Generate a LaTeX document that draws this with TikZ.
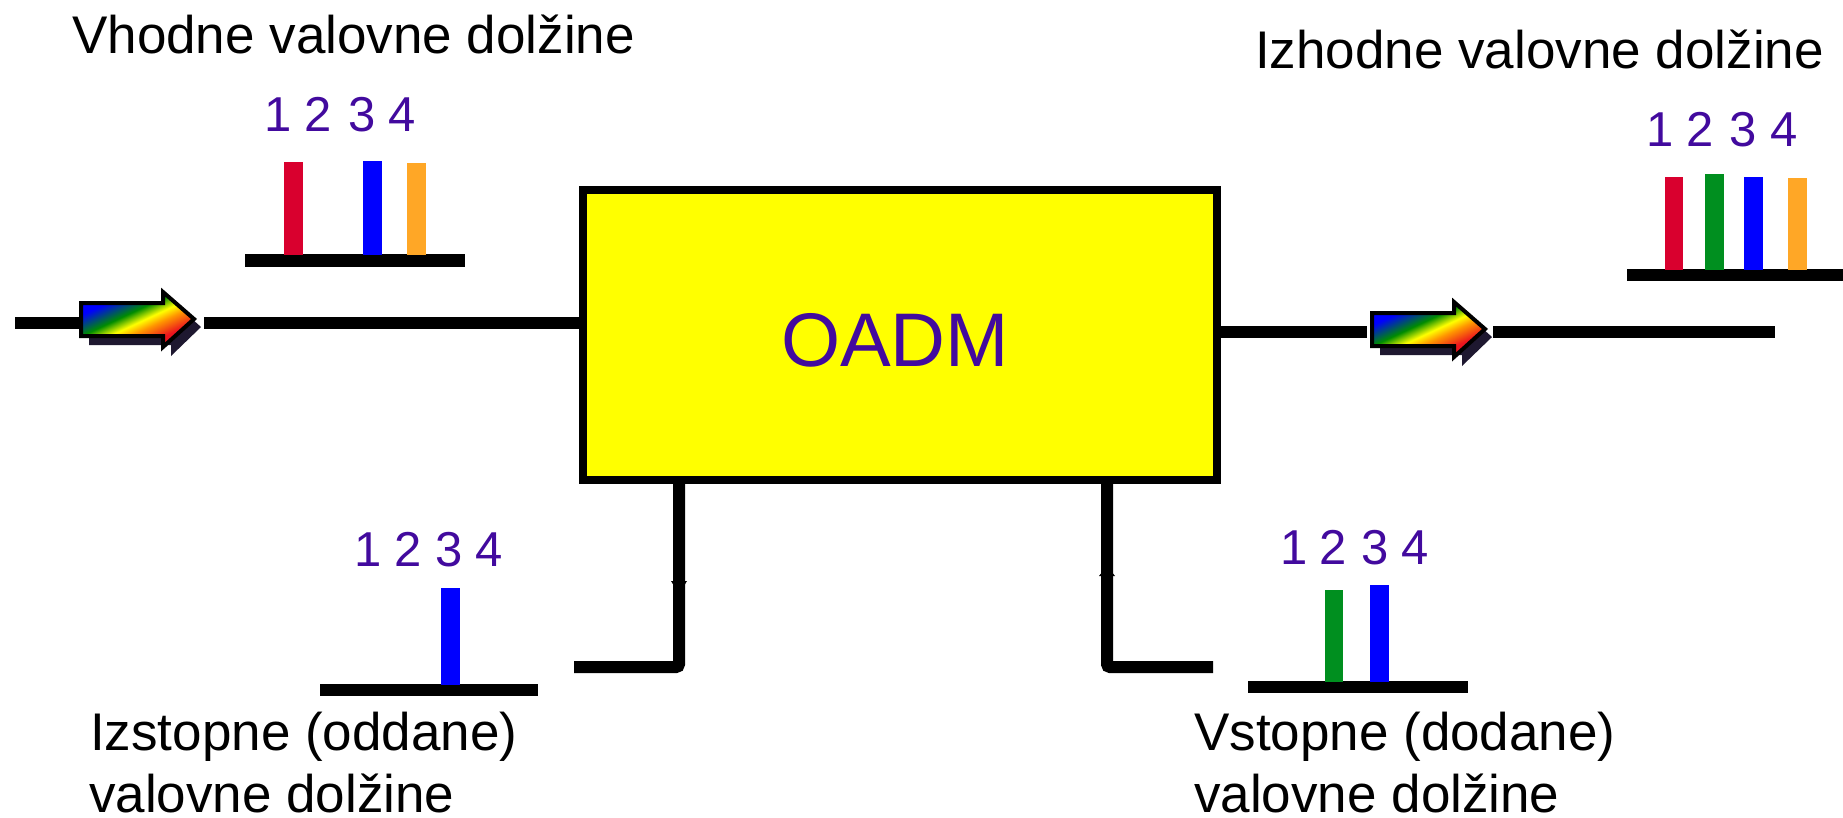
\documentclass[tikz,border=0pt]{standalone}
\usepackage{fontspec}
\setmainfont{Liberation Sans}
\definecolor{ind}{RGB}{66,10,158}
\definecolor{oyellow}{RGB}{255,255,0}
\definecolor{sred}{RGB}{217,0,46}
\definecolor{sgreen}{RGB}{0,143,31}
\definecolor{sblue}{RGB}{0,0,255}
\definecolor{sorange}{RGB}{255,167,38}
\definecolor{shad}{RGB}{30,24,48}
\definecolor{gblue}{RGB}{0,0,255}
\definecolor{ggreen}{RGB}{0,140,0}
\definecolor{gyellow}{RGB}{255,255,0}
\definecolor{gorange}{RGB}{255,150,0}
\definecolor{gred}{RGB}{235,20,30}
\pgfdeclarehorizontalshading{rainbowarrow}{100bp}{
 color(0bp)=(gblue); color(31bp)=(gblue); color(44bp)=(ggreen); color(52bp)=(gyellow); color(58bp)=(gorange); color(68bp)=(gred); color(100bp)=(gred)}
\tikzset{
  wire/.style={line width=12pt,black},
  basebar/.style={line width=12.5pt,black},
  cap1/.style={font=\fontsize{53}{55}\selectfont,anchor=base west,inner sep=0pt,text=black},
  digit/.style={font=\fontsize{49}{50}\selectfont,anchor=base,inner sep=0pt,text=ind},
  oadm/.style={draw=black,line width=8pt,fill=oyellow,minimum width=634pt,minimum height=290pt,anchor=north west,inner sep=0pt},
  barb/.style={fill=black,draw=none}
}
\newcommand{\rbarrow}[2]{%
  \begin{scope}[shift={(#1,#2)}]
   \fill[shad] (10,-6)--(92,-6)--(92,-18)--(122,9)--(92,38)--(92,27)--(10,27)--cycle;
   \shade[shading=rainbowarrow,shading angle=-65,draw=black,line width=4pt]
     (2,-15)--(84,-15)--(84,-26)--(115,1)--(84,29)--(84,18)--(2,18)--cycle;
  \end{scope}}
\begin{document}
\begin{tikzpicture}[x=1pt,y=-1pt]
\useasboundingbox (0,0) rectangle (1843,817);
\fill[white] (0,0) rectangle (1843,817);
% OADM box
\node[oadm] (box) at (579,186) {};
\node[text=ind,font=\fontsize{76}{80}\selectfont,inner sep=0pt] (boxlabel) at (895,340) {OADM};
% coordinates
\coordinate (inA) at (15,323);
\coordinate (inB) at (80,323);
\coordinate (inC) at (204,323);
\coordinate (inD) at (box.west |- 0,323);
\coordinate (outA) at (box.east |- 0,332);
\coordinate (outB) at (1367,332);
\coordinate (outC) at (1493,332);
\coordinate (outD) at (1775,332);
\coordinate (dropT) at (679,0 |- box.south);
\coordinate (dropB) at (679,667);
\coordinate (dropE) at (574,667);
\coordinate (addT) at (1107,0 |- box.south);
\coordinate (addB) at (1107,667);
\coordinate (addE) at (1213,667);
% wires
\draw[wire] (inA) -- (inB);
\draw[wire] (inC) -- (inD);
\draw[wire] (outA) -- (outB);
\draw[wire] (outC) -- (outD);
\draw[wire,rounded corners=3pt] (dropT) -- (dropB) -- (dropE);
\draw[wire,rounded corners=3pt] (addT) -- (addB) -- (addE);
\fill[barb] (671,581) -- (687,581) -- (679,594) -- cycle;
\fill[barb] (1099,576) -- (1115,576) -- (1107,566) -- cycle;
% rainbow arrows
\rbarrow{79}{318}
\rbarrow{1370}{328}
% top-left spectrum
\draw[basebar] (245,260.5) -- (465,260.5);
\fill[sred] (284,162) rectangle (303,255);
\fill[sblue] (363,161) rectangle (382,255);
\fill[sorange] (407,163) rectangle (426,255);
\node[digit] (a1) at (278,131) {1};
\node[digit] (a2) at (318,131) {2};
\node[digit] (a3) at (362,131) {3};
\node[digit] (a4) at (402,131) {4};
% top-right spectrum
\draw[basebar] (1627,275) -- (1843,275);
\fill[sred] (1665,177) rectangle (1683,270);
\fill[sgreen] (1705,174) rectangle (1724,270);
\fill[sblue] (1744,177) rectangle (1763,270);
\fill[sorange] (1788,178) rectangle (1807,270);
\node[digit] (b1) at (1660,146) {1};
\node[digit] (b2) at (1700,146) {2};
\node[digit] (b3) at (1743,146) {3};
\node[digit] (b4) at (1784,146) {4};
% bottom-left spectrum
\draw[basebar] (320,690) -- (538,690);
\fill[sblue] (441,588) rectangle (460,685);
\node[digit] (c1) at (368,566) {1};
\node[digit] (c2) at (408,566) {2};
\node[digit] (c3) at (449,566) {3};
\node[digit] (c4) at (489,566) {4};
% bottom-right spectrum
\draw[basebar] (1248,687) -- (1468,687);
\fill[sgreen] (1325,590) rectangle (1343,682);
\fill[sblue] (1370,585) rectangle (1389,682);
\node[digit] (d1) at (1294,564) {1};
\node[digit] (d2) at (1333,564) {2};
\node[digit] (d3) at (1375,564) {3};
\node[digit] (d4) at (1415,564) {4};
% captions
\node[cap1] (t1) at (72,53) {Vhodne valovne dolžine};
\node[cap1] (t2) at (1255,68) {Izhodne valovne dolžine};
\node[cap1] (t3) at (90,750) {Izstopne (oddane)};
\node[cap1] (t4) at (89,812) {valovne dolžine};
\node[cap1] (t5) at (1194,750) {Vstopne (dodane)};
\node[cap1] (t6) at (1194,812) {valovne dolžine};
\end{tikzpicture}
\end{document}
